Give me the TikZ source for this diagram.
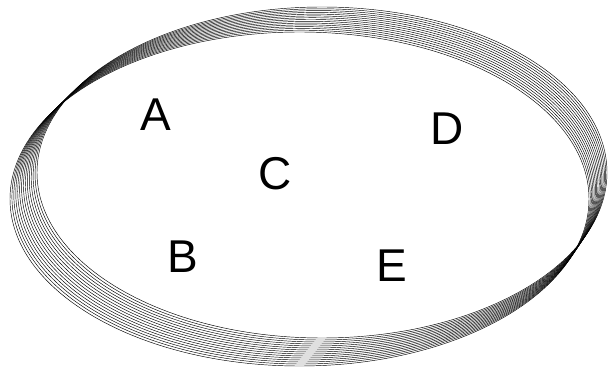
\documentclass[tikz,border=0pt]{standalone}
\usepackage{fontspec}
\setmainfont{Liberation Sans}
\begin{document}
\begin{tikzpicture}[x=1pt,y=1pt,
  ring/.style={draw=black,line width=0.45pt},
  letter/.style={inner sep=0pt,font=\fontsize{46}{46}\selectfont}]
\useasboundingbox (0,0) rectangle (608,367);
\foreach \i in {0,...,14}{
  \pgfmathsetmacro{\t}{\i/14}
  \pgfmathsetmacro{\cx}{299.5+22.5*\t}
  \pgfmathsetmacro{\cy}{168+26.5*\t}
  \pgfmathsetmacro{\ra}{289.5-4.5*\t}
  \pgfmathsetmacro{\rb}{167-1.5*\t}
  \draw[ring] (\cx,\cy) ellipse [x radius=\ra pt, y radius=\rb pt];
}
\node[letter] (A) at (155.5,252.5) {A};
\node[letter] (B) at (182.5,110.5) {B};
\node[letter] (C) at (275,193) {C};
\node[letter] (D) at (447.5,238.5) {D};
\node[letter] (E) at (391.5,101.5) {E};
\end{tikzpicture}
\end{document}
